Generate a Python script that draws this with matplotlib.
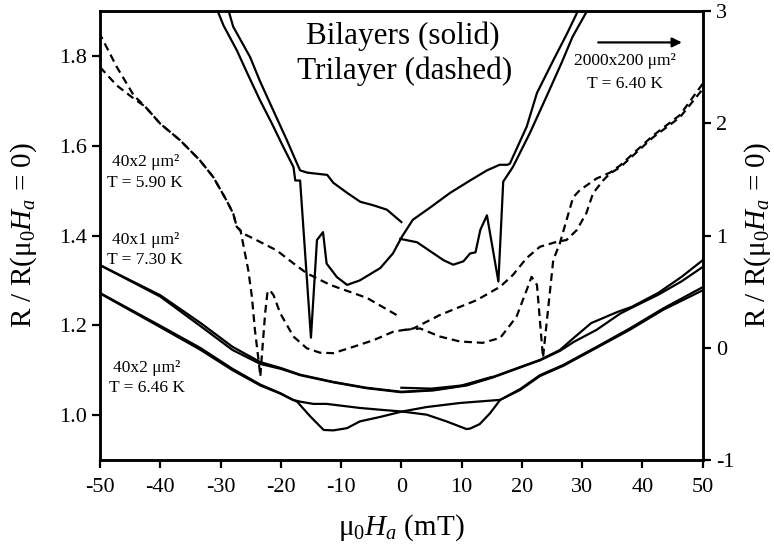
import matplotlib
matplotlib.use("Agg")
import matplotlib.pyplot as plt

plt.rcParams['font.family'] = ['Liberation Serif', 'DejaVu Serif']
plt.rcParams['mathtext.fontset'] = 'custom'
plt.rcParams['mathtext.rm'] = 'Liberation Serif'
plt.rcParams['mathtext.it'] = 'Liberation Serif:italic'
plt.rcParams['axes.unicode_minus'] = False

# 2000x200 bilayer (right axis), three sweeps: 0 -> -H, -H -> +H, +H -> 0
s1_x = [0.0, -2.4, -4.7, -6.8, -9.0, -11.3, -12.3, -15.6, -16.8, -17.3, -19.0, -21.3, -23.5, -25.1, -27.9, -28.6, -29.1]
s1_r = [1.12, 1.23, 1.27, 1.30, 1.38, 1.47, 1.54, 1.56, 1.58, 1.64, 1.85, 2.12, 2.38, 2.59, 2.86, 2.99, 3.05]
s2_x = [-30.7, -30.4, -29.5, -27.3, -25.6, -23.5, -21.5, -19.6, -17.9, -17.6, -16.8, -15.0, -14.0, -13.0, -12.4,
        -10.7, -9.0, -6.9, -3.5, -1.4, 0.1, 1.9, 4.8, 8.1, 11.4, 14.2, 16.3, 17.6, 18.0, 20.8, 22.5, 25.2, 27.5, 29.2, 29.5]
s2_r = [3.05, 2.99, 2.87, 2.65, 2.45, 2.21, 2.00, 1.79, 1.61, 1.49, 1.49, 0.09, 0.96, 1.03, 0.75,
        0.63, 0.56, 0.60, 0.71, 0.84, 0.99, 1.14, 1.25, 1.38, 1.49, 1.58, 1.63, 1.63, 1.64, 1.97, 2.27, 2.56, 2.80, 2.99, 3.05]
s3_x = [31.1, 30.7, 28.4, 26.6, 24.1, 21.3, 18.5, 16.9, 16.1, 14.2, 13.1, 12.3, 11.4, 10.3, 8.6, 7.0, 2.6, -0.2]
s3_r = [3.05, 2.99, 2.77, 2.54, 2.24, 1.91, 1.61, 1.48, 0.59, 1.18, 1.05, 0.85, 0.84, 0.77, 0.74, 0.78, 0.94, 0.97]

# 40x2 bilayer, upper lower pair (left axis)
b1_x = [0.0, 5.0, 10.0, 15.0]
b1_y = [1.061, 1.059, 1.066, 1.085]
b2_x = [50, 46.5, 42.6, 38.2, 35.9, 31.5, 28.6, 26.3, 23.0, 19.7, 15.2, 10.8, 5.3, 0, -5.8, -11.3, -16.8, -20.0, -23.4, -28.0, -33.3, -40.0, -50]
b2_y = [1.345, 1.308, 1.272, 1.241, 1.230, 1.205, 1.172, 1.145, 1.123, 1.107, 1.085, 1.067, 1.056, 1.052, 1.061, 1.074, 1.090, 1.105, 1.118, 1.152, 1.205, 1.267, 1.334]
b3_x = [-50, -40, -33.3, -28, -23.4, -20, -16.8, -11.3, -5.8, 0, 5.3, 10.8, 15.2, 19.7, 23, 26.3, 28.6, 32.4, 36.3, 38.2, 42.6, 46.5, 50]
b3_y = [1.334, 1.264, 1.198, 1.145, 1.114, 1.103, 1.089, 1.073, 1.060, 1.051, 1.055, 1.066, 1.084, 1.106, 1.122, 1.143, 1.163, 1.190, 1.226, 1.239, 1.268, 1.298, 1.330]

# lower pair with the dips
c_down_x = [50, 43.5, 37.9, 32.4, 26.9, 23.0, 19.7, 16.4, 14.7, 13.0, 11.4, 10.8, 7.5, 4.2, 0.1, -3.5, -6.9, -12.4, -14.6, -16.8, -18.0, -20.1, -23.4, -28.0, -33.4, -40.0, -50]
c_down_y = [1.285, 1.238, 1.193, 1.152, 1.112, 1.089, 1.058, 1.034, 1.004, 0.980, 0.970, 0.969, 0.986, 1.001, 1.008, 1.012, 1.016, 1.025, 1.025, 1.030, 1.034, 1.049, 1.068, 1.103, 1.150, 1.199, 1.272]
c_up_x = [-50, -40.0, -33.4, -28.0, -23.4, -20.1, -18.0, -17.3, -15.1, -12.9, -11.3, -9.0, -6.9, -3.5, 0.1, 4.2, 9.7, 16.4, 19.7, 23.0, 26.9, 32.4, 37.9, 43.5, 50]
c_up_y = [1.271, 1.196, 1.146, 1.100, 1.066, 1.048, 1.034, 1.030, 0.997, 0.967, 0.966, 0.971, 0.986, 0.996, 1.008, 1.018, 1.027, 1.034, 1.056, 1.087, 1.110, 1.150, 1.190, 1.235, 1.278]

# trilayer (dashed)
d1_x = [-0.8, -5.7, -11.8, -15.7, -17.9, -20.7, -24.5, -26.2, -27.3, -27.9, -29.0, -31.2, -33.4, -36.7, -40.0, -42.5, -44.4, -47.2, -50]
d1_y = [1.223, 1.261, 1.290, 1.316, 1.338, 1.367, 1.393, 1.404, 1.419, 1.449, 1.478, 1.530, 1.567, 1.612, 1.649, 1.687, 1.712, 1.775, 1.848]
d2_x = [-50, -47.2, -44.4, -42.5, -40.0, -36.7, -33.4, -31.2, -29.0, -27.9, -27.3, -26.7, -25.4, -24.8, -24.3, -23.7, -23.4,
        -23.2, -22.6, -22.2, -21.8, -21.2, -20.1, -17.9, -15.7, -13.5, -11.3, -8.0, -4.6, -1.3, 2.0, 6.4, 9.7, 12.5,
        16.4, 18.5, 20.8, 23.0, 25.8, 27.4, 29.1, 30.7, 31.8, 33.5, 34.6, 36.3, 41.7, 46.2, 50]
d2_y = [1.775, 1.734, 1.705, 1.687, 1.649, 1.612, 1.567, 1.530, 1.478, 1.449, 1.419, 1.412, 1.323, 1.264, 1.190, 1.123, 1.086,
        1.123, 1.227, 1.275, 1.278, 1.267, 1.227, 1.175, 1.149, 1.139, 1.138, 1.152, 1.167, 1.186, 1.193, 1.223, 1.241, 1.256,
        1.286, 1.312, 1.350, 1.375, 1.386, 1.390, 1.412, 1.450, 1.494, 1.523, 1.538, 1.552, 1.618, 1.663, 1.726]
d3_x = [50, 46.2, 41.7, 36.3, 34.6, 32.4, 29.6, 28.5, 27.4, 26.3, 25.2, 23.5, 22.5, 21.6, 20.8, 19.1, 16.4, 13.5, 9.7, 6.4, 3.1, 0.6]
d3_y = [1.738, 1.668, 1.622, 1.556, 1.540, 1.527, 1.501, 1.485, 1.434, 1.383, 1.345, 1.128, 1.290, 1.308, 1.279, 1.219, 1.172, 1.161, 1.164, 1.175, 1.193, 1.190]

fig = plt.figure(figsize=(7.74, 5.47), dpi=100)
ax = fig.add_axes([0.1292, 0.159, 0.7787, 0.8209])
ax2 = ax.twinx()

lw = 1.6
for xs, ys in [(b1_x, b1_y), (b2_x, b2_y), (b3_x, b3_y), (c_down_x, c_down_y), (c_up_x, c_up_y)]:
    ax.plot(xs, ys, color='black', lw=lw)
for xs, ys in [(d1_x, d1_y), (d2_x, d2_y), (d3_x, d3_y)]:
    ax.plot(xs, ys, color='black', lw=lw, ls=(0, (3.5, 2.2)))
for xs, ys in [(s1_x, s1_r), (s2_x, s2_r), (s3_x, s3_r)]:
    ax2.plot(xs, ys, color='black', lw=lw)

ax.set_xlim(-50, 50)
ax.set_ylim(0.9, 1.9)
ax2.set_ylim(-1, 3)
ax.set_xticks(range(-50, 51, 10))
ax.set_yticks([1.0, 1.2, 1.4, 1.6, 1.8])
ax.set_yticklabels(['1.0', '1.2', '1.4', '1.6', '1.8'])
ax2.set_yticks([-1, 0, 1, 2, 3])

for a in (ax, ax2):
    for sp in a.spines.values():
        sp.set_linewidth(1.8)
    a.tick_params(direction='out', length=6, width=1.6, labelsize=16)
ax.tick_params(axis='x', pad=7)

ylab = r'R / R($\mathregular{\mu}_0H_a$ = 0)'
ax.set_xlabel(r'$\mathregular{\mu}_0H_a$ (mT)', fontsize=21, labelpad=11)
ax.set_ylabel(ylab, fontsize=21, labelpad=14)
ax2.set_ylabel(ylab, fontsize=21, labelpad=6, rotation=90)

ax.text(0.3, 1.827, 'Bilayers (solid)', fontsize=22.5, ha='center', va='baseline')
ax.text(0.6, 1.749, 'Trilayer (dashed)', fontsize=22.5, ha='center', va='baseline')

small = 12.5
ax.text(-42.5, 1.563, '40x2 μm²', fontsize=small, ha='center', va='center')
ax.text(-42.5, 1.516, 'T = 5.90 K', fontsize=small, ha='center', va='center')
ax.text(-42.5, 1.389, '40x1 μm²', fontsize=small, ha='center', va='center')
ax.text(-42.5, 1.345, 'T = 7.30 K', fontsize=small, ha='center', va='center')
ax.text(-42.2, 1.105, '40x2 μm²', fontsize=small, ha='center', va='center')
ax.text(-42.2, 1.061, 'T = 6.46 K', fontsize=small, ha='center', va='center')
ax.text(37.1, 1.788, '2000x200 μm²', fontsize=small, ha='center', va='center')
ax.text(37.1, 1.738, 'T = 6.40 K', fontsize=small, ha='center', va='center')
ax.annotate('', xy=(47.0, 1.83), xytext=(32.2, 1.83),
            arrowprops=dict(arrowstyle='-|>', color='black', lw=1.6, mutation_scale=14))

fig.savefig('out.png', dpi=100)
